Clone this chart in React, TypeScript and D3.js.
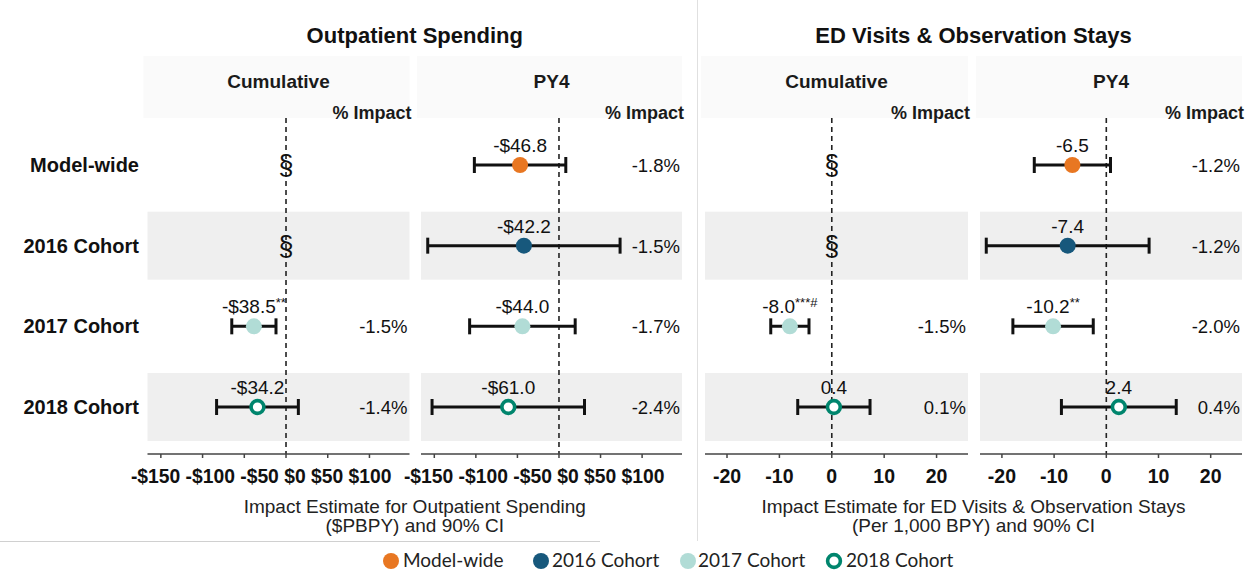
import React from "react";
import * as d3 from "d3";

// ---------- data ----------
const rows = ["Model-wide", "2016 Cohort", "2017 Cohort", "2018 Cohort"];
const groups = ["Model-wide", "2016", "2017", "2018"];

const opCumEst = [null, null, -38.5, -34.2];
const opCumLo = [null, null, -65.0, -83.2];
const opCumHi = [null, null, -12.0, 14.8];
const opCumLabel = ["", "", "-$38.5", "-$34.2"];
const opCumSig = ["", "", "**", ""];
const opCumPct = ["", "", "-1.5%", "-1.4%"];

const opPy4Est = [-46.8, -42.2, -44.0, -61.0];
const opPy4Lo = [-101.8, -157.9, -107.5, -152.7];
const opPy4Hi = [8.2, 73.5, 19.5, 30.7];
const opPy4Label = ["-$46.8", "-$42.2", "-$44.0", "-$61.0"];
const opPy4Sig = ["", "", "", ""];
const opPy4Pct = ["-1.8%", "-1.5%", "-1.7%", "-2.4%"];

const edCumEst = [null, null, -8.0, 0.4];
const edCumLo = [null, null, -11.65, -6.5];
const edCumHi = [null, null, -4.35, 7.3];
const edCumLabel = ["", "", "-8.0", "0.4"];
const edCumSig = ["", "", "***#", ""];
const edCumPct = ["", "", "-1.5%", "0.1%"];

const edPy4Est = [-6.5, -7.4, -10.2, 2.4];
const edPy4Lo = [-13.8, -23.0, -17.9, -8.6];
const edPy4Hi = [0.8, 8.2, -2.5, 13.4];
const edPy4Label = ["-6.5", "-7.4", "-10.2", "2.4"];
const edPy4Sig = ["", "", "**", ""];
const edPy4Pct = ["-1.2%", "-1.2%", "-2.0%", "0.4%"];

const opTicks = [-150, -100, -50, 0, 50, 100];
const opTickLabels = ["-$150", "-$100", "-$50", "$0", "$50", "$100"];
const edTicks = [-20, -10, 0, 10, 20];
const edTickLabels = ["-20", "-10", "0", "10", "20"];

const opDomain = [-166, 148];
const edDomain = [-24.2, 26];

const colors: Record<string, string> = {
  "Model-wide": "#E87722",
  "2016": "#17587C",
  "2017": "#B1DCD6",
  "2018": "#00856D",
};
const legendLabels = ["Model-wide", "2016 Cohort", "2017 Cohort", "2018 Cohort"];

// ---------- layout ----------
const W = 1254;
const H = 571;
const font = "'Liberation Sans', Arial, sans-serif";
const plotTop = 118;
const axisY = 454;
const yScale = d3.scalePoint<string>().domain(rows).range([165, 407]);
const bandH = 68;

const panels = [
  { x0: 147.5, x1: 409.5, domain: opDomain, ticks: opTicks, tickLabels: opTickLabels, joined: true, strip: "Cumulative",
    est: opCumEst, lo: opCumLo, hi: opCumHi, label: opCumLabel, sig: opCumSig, pct: opCumPct },
  { x0: 421, x1: 682, domain: opDomain, ticks: opTicks, tickLabels: opTickLabels, joined: true, strip: "PY4",
    est: opPy4Est, lo: opPy4Lo, hi: opPy4Hi, label: opPy4Label, sig: opPy4Sig, pct: opPy4Pct },
  { x0: 705, x1: 968, domain: edDomain, ticks: edTicks, tickLabels: edTickLabels, joined: false, strip: "Cumulative",
    est: edCumEst, lo: edCumLo, hi: edCumHi, label: edCumLabel, sig: edCumSig, pct: edCumPct },
  { x0: 980, x1: 1242, domain: edDomain, ticks: edTicks, tickLabels: edTickLabels, joined: false, strip: "PY4",
    est: edPy4Est, lo: edPy4Lo, hi: edPy4Hi, label: edPy4Label, sig: edPy4Sig, pct: edPy4Pct },
];

function Marker({ cx, cy, g, r = 8 }: { cx: number; cy: number; g: string; r?: number }) {
  if (g === "2018") {
    return <circle cx={cx} cy={cy} r={r - 1.6} fill="#fff" stroke={colors[g]} strokeWidth={3.6} />;
  }
  return <circle cx={cx} cy={cy} r={r} fill={colors[g]} />;
}

function Panel({ p }: { p: (typeof panels)[number] }) {
  const x = d3.scaleLinear().domain(p.domain).range([p.x0, p.x1]);
  const x0 = x(0);
  const first = p.ticks[0];
  const last = p.ticks[p.ticks.length - 1];
  return (
    <g>
      {/* strip background */}
      <rect x={p.x0 - 4} y={56} width={p.x1 - p.x0 + 4} height={plotTop - 56} fill="#fafafa" />
      <text x={(p.x0 + p.x1) / 2} y={88} textAnchor="middle" fontSize={19} fontWeight="bold" fill="#1a1a1a">
        {p.strip}
      </text>
      <text x={p.x1 + 2} y={119} textAnchor="end" fontSize={18} fontWeight="bold" fill="#1a1a1a">
        % Impact
      </text>
      {/* row bands */}
      {rows.map((r, i) =>
        i % 2 === 1 ? (
          <rect key={r} x={p.x0} y={(yScale(r) as number) - bandH / 2} width={p.x1 - p.x0} height={bandH} fill="#efefef" />
        ) : null
      )}
      {/* zero line */}
      <line x1={x0} x2={x0} y1={plotTop} y2={axisY} stroke="#222" strokeWidth={1.6} strokeDasharray="5,4" />
      {/* axis */}
      <line x1={p.x0} x2={p.x1} y1={axisY} y2={axisY} stroke="#444" strokeWidth={1.5} />
      {p.ticks.map((t) => (
        <line key={t} x1={x(t)} x2={x(t)} y1={axisY} y2={axisY + 4} stroke="#444" strokeWidth={1.5} />
      ))}
      {p.joined ? (
        <text
          x={(x(first) + x(last)) / 2 - 4}
          y={483}
          textAnchor="middle"
          fontSize={19.3}
          fontWeight="bold"
          fill="#111"
          style={{ whiteSpace: "pre" }}
        >
          {p.tickLabels.join(" ")}
        </text>
      ) : (
        p.ticks.map((t, i) => (
          <text key={t} x={x(t)} y={483} textAnchor="middle" fontSize={19.5} fontWeight="bold" fill="#111">
            {p.tickLabels[i]}
          </text>
        ))
      )}
      {/* estimates */}
      {rows.map((r, i) => {
        const cy = yScale(r) as number;
        const e = p.est[i];
        if (e === null) {
          return (
            <text key={r} x={x0} y={cy + 9} textAnchor="middle" fontSize={27} fill="#111">
              §
            </text>
          );
        }
        const lo = x(p.lo[i] as number);
        const hi = x(p.hi[i] as number);
        return (
          <g key={r}>
            <line x1={lo} x2={hi} y1={cy} y2={cy} stroke="#111" strokeWidth={3} />
            <line x1={lo} x2={lo} y1={cy - 8} y2={cy + 8} stroke="#111" strokeWidth={3} />
            <line x1={hi} x2={hi} y1={cy - 8} y2={cy + 8} stroke="#111" strokeWidth={3} />
            <Marker cx={x(e)} cy={cy} g={groups[i]} />
            <text x={x(e)} y={cy - 13} textAnchor="middle" fontSize={19} fill="#111">
              {p.label[i]}
              {p.sig[i] ? (
                <tspan fontSize={13} dy={-6}>
                  {p.sig[i]}
                </tspan>
              ) : null}
            </text>
            <text x={p.x1 - 2} y={cy + 7} textAnchor="end" fontSize={18.5} fill="#111">
              {p.pct[i]}
            </text>
          </g>
        );
      })}
    </g>
  );
}

export default function App() {
  const legendX = [391, 541, 688, 834];
  const legendTextX = [403, 552, 698, 846];
  return (
    <svg
      width={W}
      height={H}
      style={{ position: "absolute", left: 0, top: 0, background: "#fff" }}
      fontFamily={font}
    >
      <rect width={W} height={H} fill="#fff" />
      {/* separators */}
      <line x1={697.5} x2={697.5} y1={0} y2={541} stroke="#e0e0e0" strokeWidth={1} />
      <line x1={0} x2={600} y1={541.5} y2={541.5} stroke="#d0d0d0" strokeWidth={1} />
      {/* titles */}
      <text x={(147.5 + 682) / 2} y={43} textAnchor="middle" fontSize={22} fontWeight="bold" fill="#111">
        Outpatient Spending
      </text>
      <text x={(705 + 1242) / 2} y={43} textAnchor="middle" fontSize={22} fontWeight="bold" fill="#111">
        ED Visits &amp; Observation Stays
      </text>
      {panels.map((p, i) => (
        <Panel key={i} p={p} />
      ))}
      {/* row labels */}
      {rows.map((r) => (
        <text key={r} x={139} y={(yScale(r) as number) + 7} textAnchor="end" fontSize={20} fontWeight="bold" fill="#111">
          {r}
        </text>
      ))}
      {/* axis titles */}
      <text x={(147.5 + 682) / 2} y={513} textAnchor="middle" fontSize={19} fill="#222">
        Impact Estimate for Outpatient Spending
      </text>
      <text x={(147.5 + 682) / 2} y={532} textAnchor="middle" fontSize={19} fill="#222">
        ($PBPY) and 90% CI
      </text>
      <text x={(705 + 1242) / 2} y={513} textAnchor="middle" fontSize={19} fill="#222">
        Impact Estimate for ED Visits &amp; Observation Stays
      </text>
      <text x={(705 + 1242) / 2} y={532} textAnchor="middle" fontSize={19} fill="#222">
        (Per 1,000 BPY) and 90% CI
      </text>
      {/* legend */}
      {groups.map((g, i) => (
        <g key={g}>
          <Marker cx={legendX[i]} cy={561} g={g} r={8} />
          <text x={legendTextX[i]} y={567} fontSize={19} fill="#222" fontFamily="Lato, 'Open Sans', sans-serif">
            {legendLabels[i]}
          </text>
        </g>
      ))}
    </svg>
  );
}
